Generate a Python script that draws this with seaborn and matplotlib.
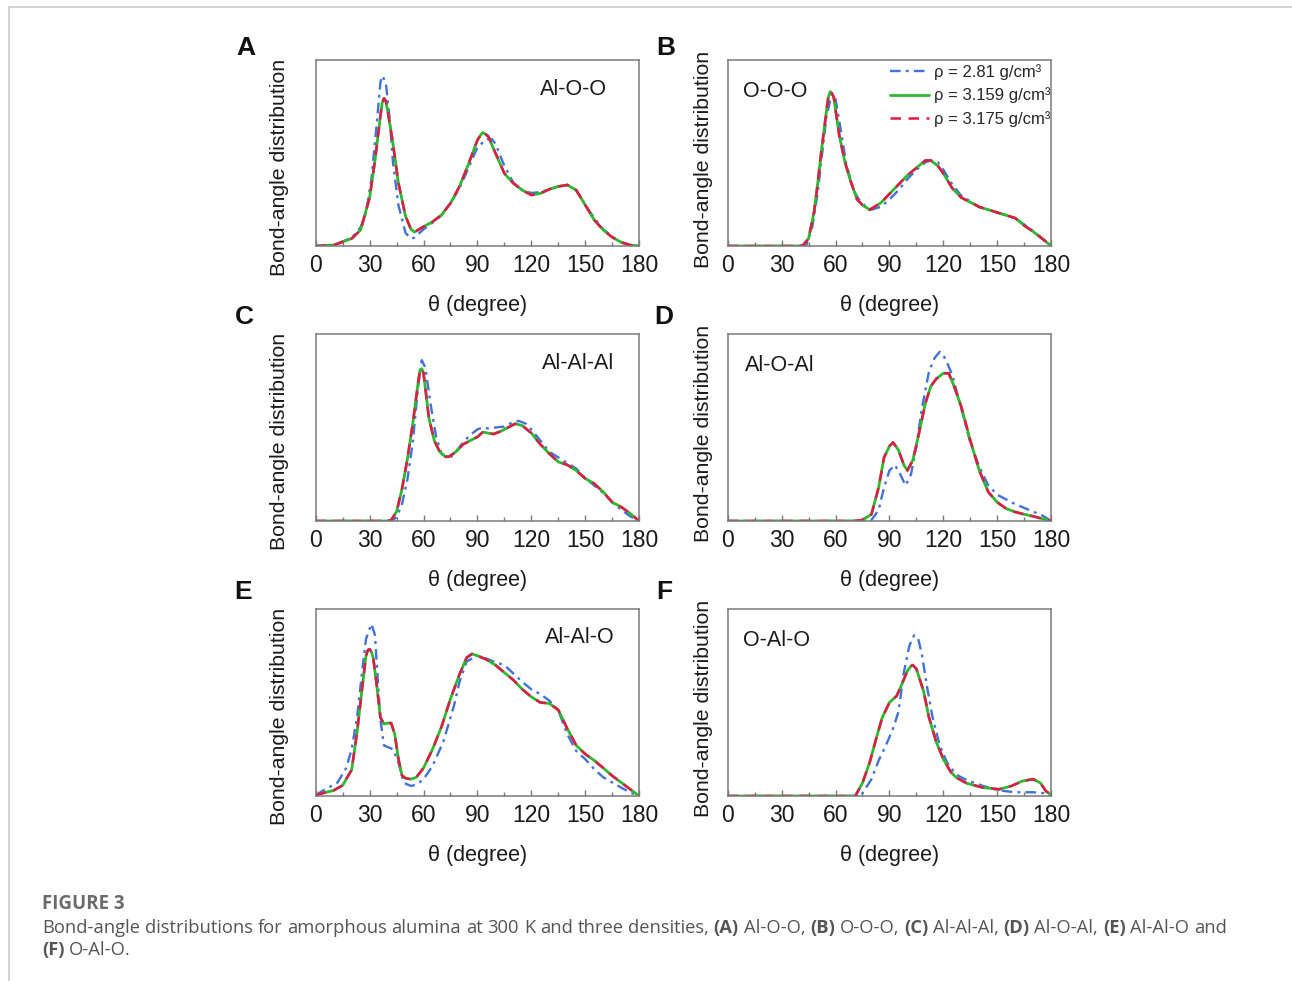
import numpy as np
import pandas as pd
import matplotlib
matplotlib.use("Agg")
import matplotlib.pyplot as plt
from matplotlib.lines import Line2D
from matplotlib.ticker import MultipleLocator
import seaborn as sns

# ---------------- data ----------------
series_labels = ["ρ = 2.81 g/cm³", "ρ = 3.159 g/cm³", "ρ = 3.175 g/cm³"]
panel_letters = ["A", "B", "C", "D", "E", "F"]
panel_titles = ["Al-O-O", "O-O-O", "Al-Al-Al", "Al-O-Al", "Al-Al-O", "O-Al-O"]
x_ticks = [0, 30, 60, 90, 120, 150, 180]

# Panel A: Al-O-O
A_x_blue = [0, 10, 20, 25, 28, 31, 34, 36, 37, 39, 41, 43, 46, 50, 53, 55, 60, 65, 70, 75, 80, 85, 90, 95, 98, 100,
            105, 110, 115, 120, 125, 130, 135, 140, 145, 150, 155, 160, 165, 170, 175, 180]
A_y_blue = [0, 0.003, 0.045, 0.10, 0.18, 0.36, 0.66, 0.88, 0.915, 0.88, 0.70, 0.45, 0.22, 0.07, 0.04, 0.045, 0.09,
            0.125, 0.165, 0.23, 0.31, 0.42, 0.53, 0.575, 0.575, 0.55, 0.43, 0.34, 0.30, 0.285, 0.29, 0.305, 0.32, 0.33,
            0.30, 0.22, 0.15, 0.09, 0.05, 0.02, 0.005, 0]
A_x_green = [0, 10, 20, 25, 30, 33, 36, 37, 38, 39, 40, 43, 46, 50, 53, 55, 60, 65, 70, 75, 80, 85, 90, 92, 93, 94,
             96, 100, 105, 110, 115, 120, 125, 130, 135, 140, 145, 150, 155, 160, 165, 170, 175, 180]
A_y_green = [0, 0.005, 0.04, 0.086, 0.26, 0.46, 0.70, 0.77, 0.794, 0.78, 0.73, 0.55, 0.34, 0.16, 0.09, 0.075, 0.104,
             0.13, 0.167, 0.23, 0.32, 0.44, 0.57, 0.60, 0.61, 0.605, 0.59, 0.50, 0.39, 0.337, 0.30, 0.274, 0.283,
             0.305, 0.32, 0.328, 0.30, 0.22, 0.14, 0.086, 0.047, 0.02, 0.005, 0]
A_x_red = A_x_green
A_y_red = A_y_green

# Panel B: O-O-O
B_x_blue = [0, 42, 44, 47, 50, 52, 55, 58, 60, 63, 66, 70, 73, 77, 80, 85, 90, 95, 100, 105, 110, 113, 117, 120, 125,
            130, 135, 140, 145, 150, 155, 160, 165, 170, 175, 180]
B_y_blue = [0, 0, 0.01, 0.10, 0.28, 0.45, 0.70, 0.82, 0.79, 0.62, 0.44, 0.30, 0.25, 0.21, 0.195, 0.21, 0.25, 0.30,
            0.36, 0.41, 0.45, 0.46, 0.45, 0.41, 0.33, 0.27, 0.24, 0.21, 0.195, 0.18, 0.165, 0.15, 0.115, 0.08, 0.04, 0]
B_x_green = [0, 40, 42, 45, 48, 50, 52, 55, 56, 57, 58, 59, 62, 65, 68, 72, 75, 79, 85, 90, 95, 100, 105, 110, 113,
             117, 120, 125, 130, 135, 140, 145, 150, 155, 160, 165, 170, 175, 180]
B_y_green = [0, 0, 0.005, 0.04, 0.18, 0.33, 0.50, 0.73, 0.80, 0.83, 0.82, 0.80, 0.60, 0.46, 0.36, 0.25, 0.22, 0.195,
             0.23, 0.28, 0.33, 0.38, 0.42, 0.46, 0.46, 0.43, 0.39, 0.31, 0.26, 0.235, 0.21, 0.195, 0.18, 0.165, 0.15,
             0.11, 0.077, 0.04, 0]
B_x_red = B_x_green
B_y_red = B_y_green

# Panel C: Al-Al-Al
C_x_blue = [0, 42, 45, 48, 51, 54, 57, 59, 61, 64, 67, 70, 74, 78, 82, 86, 90, 93, 96, 100, 105, 110, 113, 117, 120,
            125, 130, 135, 140, 145, 150, 155, 160, 165, 170, 175, 180]
C_y_blue = [0, 0, 0.02, 0.09, 0.22, 0.42, 0.72, 0.86, 0.82, 0.62, 0.45, 0.36, 0.33, 0.37, 0.42, 0.46, 0.49, 0.50,
            0.495, 0.50, 0.505, 0.53, 0.535, 0.52, 0.49, 0.43, 0.37, 0.34, 0.31, 0.28, 0.23, 0.19, 0.15, 0.10, 0.06,
            0.025, 0]
C_x_green = [0, 40, 42, 45, 48, 51, 54, 57, 58, 59, 60, 63, 66, 69, 72, 74, 78, 82, 86, 90, 93, 96, 99, 103, 107,
             111, 115, 120, 125, 130, 135, 140, 145, 150, 155, 160, 165, 170, 175, 180]
C_y_green = [0, 0, 0.005, 0.05, 0.17, 0.33, 0.52, 0.74, 0.805, 0.815, 0.79, 0.55, 0.43, 0.37, 0.346, 0.343, 0.37,
             0.41, 0.43, 0.45, 0.475, 0.47, 0.465, 0.48, 0.50, 0.52, 0.51, 0.47, 0.41, 0.36, 0.316, 0.30, 0.27,
             0.227, 0.20, 0.155, 0.10, 0.075, 0.04, 0]
C_x_red = C_x_green
C_y_red = C_y_green

# Panel D: Al-O-Al
D_x_blue = [0, 78, 80, 84, 87, 90, 93, 96, 99, 102, 105, 108, 112, 115, 118, 121, 125, 130, 135, 140, 145, 150, 155,
            160, 165, 170, 175, 180]
D_y_blue = [0, 0, 0.005, 0.06, 0.18, 0.27, 0.30, 0.25, 0.19, 0.25, 0.40, 0.60, 0.80, 0.87, 0.905, 0.87, 0.78, 0.60,
            0.42, 0.29, 0.19, 0.14, 0.115, 0.09, 0.07, 0.05, 0.03, 0]
D_x_green = [0, 70, 75, 80, 84, 87, 90, 92, 95, 98, 100, 103, 106, 110, 113, 116, 120, 123, 126, 130, 135, 140, 145,
             150, 155, 160, 165, 170, 175, 180]
D_y_green = [0, 0, 0.005, 0.036, 0.18, 0.34, 0.40, 0.42, 0.38, 0.30, 0.27, 0.325, 0.45, 0.63, 0.72, 0.76, 0.79, 0.79,
             0.72, 0.61, 0.43, 0.27, 0.155, 0.10, 0.066, 0.048, 0.036, 0.025, 0.0125, 0]
D_x_red = D_x_green
D_y_red = D_y_green

# Panel E: Al-Al-O
E_x_blue = [0, 6, 12, 17, 20, 23, 26, 28, 31, 33, 34, 36, 38, 43, 46, 49, 53, 56, 60, 65, 71, 77, 80, 84, 90, 95,
            100, 105, 110, 115, 120, 125, 130, 135, 140, 145, 150, 155, 160, 165, 170, 175, 180]
E_y_blue = [0.005, 0.04, 0.07, 0.15, 0.25, 0.42, 0.68, 0.84, 0.92, 0.86, 0.70, 0.41, 0.27, 0.25, 0.18, 0.07, 0.054,
            0.06, 0.09, 0.16, 0.29, 0.485, 0.61, 0.72, 0.75, 0.735, 0.715, 0.70, 0.655, 0.61, 0.57, 0.545, 0.51,
            0.457, 0.33, 0.24, 0.197, 0.143, 0.10, 0.072, 0.045, 0.018, 0]
E_x_green = [0, 5, 10, 15, 20, 23, 26, 28, 29, 30, 31, 32, 34, 36, 38, 40, 42, 44, 46, 48, 50, 53, 56, 60, 65, 70,
             75, 80, 84, 87, 90, 95, 100, 105, 110, 115, 120, 125, 130, 135, 140, 145, 150, 155, 160, 165, 170, 175,
             180]
E_y_green = [0.005, 0.018, 0.03, 0.057, 0.14, 0.34, 0.59, 0.75, 0.78, 0.785, 0.77, 0.74, 0.59, 0.42, 0.385, 0.39,
             0.39, 0.33, 0.20, 0.11, 0.095, 0.09, 0.10, 0.15, 0.25, 0.37, 0.52, 0.65, 0.74, 0.76, 0.75, 0.73, 0.70,
             0.66, 0.62, 0.57, 0.53, 0.50, 0.495, 0.46, 0.36, 0.27, 0.224, 0.19, 0.15, 0.108, 0.072, 0.036, 0]
E_x_red = E_x_green
E_y_red = E_y_green

# Panel F: O-Al-O
F_x_blue = [0, 74, 76, 80, 84, 88, 92, 95, 98, 101, 103, 104, 106, 108, 111, 114, 118, 122, 127, 133, 142, 151, 160,
            170, 176, 180]
F_y_blue = [0, 0, 0.03, 0.09, 0.19, 0.27, 0.36, 0.45, 0.66, 0.80, 0.85, 0.86, 0.84, 0.76, 0.58, 0.42, 0.27, 0.18,
            0.115, 0.085, 0.054, 0.03, 0.02, 0.02, 0.015, 0]
F_x_green = [0, 71, 75, 79, 83, 86, 90, 94, 97, 100, 102, 103, 105, 109, 112, 116, 120, 124, 127, 133, 142, 151, 158,
             164, 170, 174, 177, 180]
F_y_green = [0, 0, 0.07, 0.18, 0.32, 0.42, 0.50, 0.535, 0.60, 0.67, 0.695, 0.70, 0.68, 0.56, 0.42, 0.29, 0.197, 0.13,
             0.10, 0.068, 0.045, 0.036, 0.054, 0.08, 0.09, 0.07, 0.027, 0.005]
F_x_red = F_x_green
F_y_red = F_y_green

panels = [
    (A_x_blue, A_y_blue, A_x_green, A_y_green, A_x_red, A_y_red),
    (B_x_blue, B_y_blue, B_x_green, B_y_green, B_x_red, B_y_red),
    (C_x_blue, C_y_blue, C_x_green, C_y_green, C_x_red, C_y_red),
    (D_x_blue, D_y_blue, D_x_green, D_y_green, D_x_red, D_y_red),
    (E_x_blue, E_y_blue, E_x_green, E_y_green, E_x_red, E_y_red),
    (F_x_blue, F_y_blue, F_x_green, F_y_green, F_x_red, F_y_red),
]

caption_title = "FIGURE 3"
caption_line1 = [("Bond-angle distributions for amorphous alumina at 300 K and three densities,", False),
                 ("(A)", True), ("Al-O-O,", False), ("(B)", True), ("O-O-O,", False), ("(C)", True),
                 ("Al-Al-Al,", False), ("(D)", True), ("Al-O-Al,", False), ("(E)", True), ("Al-Al-O and", False)]
caption_line2 = [("(F)", True), ("O-Al-O.", False)]

# ---------------- style ----------------
sns.set_theme(style="white")
plt.rcParams["font.family"] = ["Liberation Sans", "DejaVu Sans"]

BLUE = "#4272D6"
GREEN = "#2EB82E"
RED = "#E3194B"
SPINE = "#7a7a7a"

W, H = 1292, 981
fig = plt.figure(figsize=(W / 100, H / 100), dpi=100)
fig.patch.set_facecolor("white")

# axes placement in pixels: (left, top, right, bottom)
lefts = [315.7, 727.7]
tops_bottoms = [(60, 246), (334, 521), (609, 796)]
axes_px = []
for r in range(3):
    for c in range(2):
        t, b = tops_bottoms[r]
        axes_px.append((lefts[c], t, lefts[c] + 323.5, b))

letter_pos = [(246, 48), (666, 48), (244, 317), (664, 317), (243, 592), (664, 592)]
title_pos = [(0.797, 0.84), (0.146, 0.83), (0.81, 0.84), (0.161, 0.83), (0.816, 0.845), (0.15, 0.83)]
ylabel_coords = [(-0.083, 0.425), (-0.046, 0.468)]

blue_ls = (0, (4.5, 2.2, 1.2, 2.2))
red_ls = (0, (4.2, 3.0))

for i, (l, t, r, b) in enumerate(axes_px):
    ax = fig.add_axes([l / W, 1 - b / H, (r - l) / W, (b - t) / H])
    xb, yb, xg, yg, xr, yr = panels[i]
    sns.lineplot(x=xb, y=yb, ax=ax, color=BLUE, linewidth=1.7, linestyle=blue_ls, sort=False)
    sns.lineplot(x=xg, y=yg, ax=ax, color=GREEN, linewidth=2.0, linestyle="-", sort=False)
    sns.lineplot(x=xr, y=yr, ax=ax, color=RED, linewidth=1.8, linestyle=red_ls, sort=False)
    ax.set_xlim(0, 180)
    ax.set_ylim(0, 1.0)
    ax.set_xticks(x_ticks)
    ax.xaxis.set_minor_locator(MultipleLocator(15))
    ax.set_yticks([])
    ax.tick_params(axis="x", which="major", direction="in", length=4, width=1.0, color=SPINE,
                   labelsize=16.5, pad=6, labelcolor="#1a1a1a", bottom=True)
    ax.tick_params(axis="x", which="minor", direction="in", length=3, width=1.0, color=SPINE, bottom=True)
    for sp in ax.spines.values():
        sp.set_color(SPINE)
        sp.set_linewidth(1.1)
        sp.set_visible(True)
    ax.set_xlabel("θ (degree)", fontsize=15.5, labelpad=12.5, color="#1a1a1a")
    ax.set_ylabel("Bond-angle distribution", fontsize=15.3, color="#1a1a1a")
    ax.yaxis.set_label_coords(*ylabel_coords[i % 2])
    tx, ty = title_pos[i]
    ax.text(tx, ty, panel_titles[i], transform=ax.transAxes, fontsize=15.5, ha="center", va="center",
            color="#1a1a1a")
    lx, ly = letter_pos[i]
    fig.text(lx / W, 1 - ly / H, panel_letters[i], fontsize=19, fontweight="bold", ha="center", va="center",
             color="#111111")
    if i == 1:
        handles = [Line2D([], [], color=BLUE, linewidth=1.7, linestyle=blue_ls),
                   Line2D([], [], color=GREEN, linewidth=2.0, linestyle="-"),
                   Line2D([], [], color=RED, linewidth=1.8, linestyle=red_ls)]
        ax.legend(handles, series_labels, loc="upper left", bbox_to_anchor=(0.49, 1.0), frameon=False,
                  fontsize=12, handlelength=2.3, handletextpad=0.3, labelspacing=0.45, borderpad=0.25,
                  borderaxespad=0.0)

# ---------------- page frame ----------------
fig.add_artist(Line2D([9 / W, 1.0], [1 - 7 / H, 1 - 7 / H], transform=fig.transFigure, color="#cccccc",
                      linewidth=1.2))
fig.add_artist(Line2D([9 / W, 9 / W], [0, 1 - 7 / H], transform=fig.transFigure, color="#cccccc", linewidth=1.2))

# ---------------- caption ----------------
renderer = fig.canvas.get_renderer()
CAP_FONT = ["Open Sans", "DejaVu Sans"]


def word_tokens(segments):
    toks = []
    for text, bold in segments:
        for w in text.split(" "):
            toks.append((w, bold))
    return toks


def measure(tokens, size):
    widths = []
    sp = fig.text(0, 0, "a a", fontsize=size, family=CAP_FONT)
    nsp = fig.text(0, 0, "aa", fontsize=size, family=CAP_FONT)
    space = sp.get_window_extent(renderer).width - nsp.get_window_extent(renderer).width
    sp.remove()
    nsp.remove()
    for w, bold in tokens:
        t = fig.text(0, 0, w, fontsize=size, family=CAP_FONT, fontweight="bold" if bold else "normal")
        widths.append(t.get_window_extent(renderer).width)
        t.remove()
    total = sum(widths) + space * (len(tokens) - 1)
    return widths, space, total


def draw_line(tokens, x0, ybase, size, color):
    widths, space, _ = measure(tokens, size)
    x = x0
    for (w, bold), wd in zip(tokens, widths):
        fig.text(x / W, 1 - ybase / H, w, fontsize=size, family=CAP_FONT,
                 fontweight="bold" if bold else "normal", color=color, va="baseline", ha="left")
        x += wd + space


tok1 = word_tokens(caption_line1)
tok2 = word_tokens(caption_line2)
_, _, w_ref = measure(tok1, 12)
cap_size = 12 * (1178 / w_ref)

fig.text(42 / W, 1 - 909 / H, caption_title, fontsize=cap_size * 1.02, family=CAP_FONT, fontweight="bold",
         color="#6b6b6b", va="baseline", ha="left")
draw_line(tok1, 42, 933, cap_size, "#555555")
draw_line(tok2, 42, 955, cap_size, "#555555")

fig.savefig("out.png", dpi=100, facecolor="white")
